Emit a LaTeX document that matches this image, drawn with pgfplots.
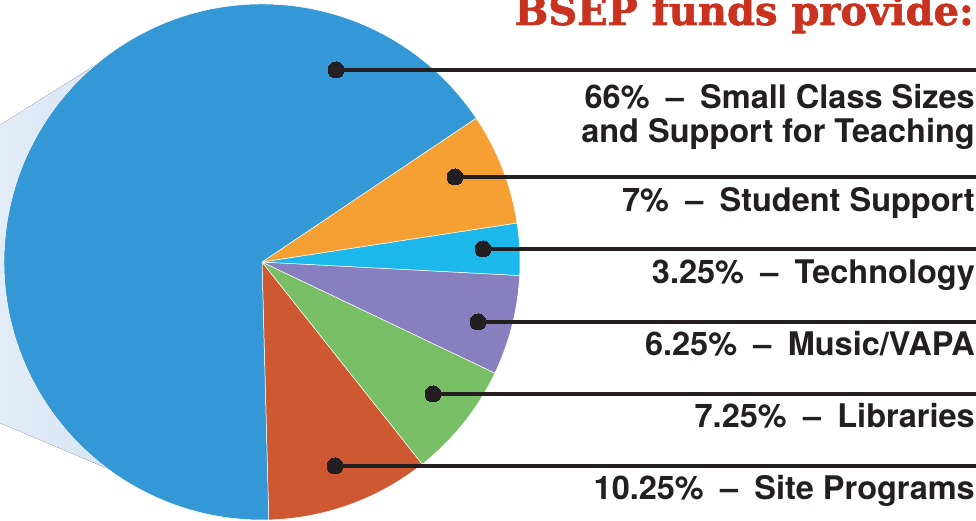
\documentclass[border=0pt]{standalone}
\usepackage{pgfplots}
\usepackage{pgfplotstable}
\pgfplotsset{compat=1.18}
\usepackage{fontspec}
\setmainfont{TeX Gyre Heros}
\newfontfamily\titlefont{DejaVu Serif}[BoldFeatures={FakeBold=1.6}]
\definecolor{cBlue}{HTML}{3398D5}
\definecolor{cOrange}{HTML}{F6A034}
\definecolor{cCyan}{HTML}{1CB7EB}
\definecolor{cPurple}{HTML}{887FBE}
\definecolor{cGreen}{HTML}{78BE64}
\definecolor{cRed}{HTML}{CE5832}
\definecolor{cTitle}{HTML}{C8321E}
\definecolor{ink}{HTML}{231F20}
\definecolor{shadeL}{HTML}{E2ECF7}
\definecolor{shadeR}{HTML}{C4D9EF}
\newcommand{\sep}{\hspace{0.5em}\textendash\hspace{0.5em}}
\pgfplotstableread{
pct col
10.25 cRed
7.25 cGreen
6.25 cPurple
3.25 cCyan
7 cOrange
66 cBlue
}\slices
\begin{document}
\begin{tikzpicture}
\begin{axis}[name=ax, x=1pt, y=1pt, xmin=0, xmax=976, ymin=0, ymax=521,
  hide axis, clip=true, anchor=south west, at={(0,0)}]
% shadow
\fill[left color=shadeL, right color=shadeR] (axis cs:0,396) -- (axis cs:110,465) -- (axis cs:262,259) -- (axis cs:130,43) -- (axis cs:0,98) -- cycle;
% pie slices
\xdef\cum{271.5}
\pgfplotsinvokeforeach{0,...,5}{
  \pgfplotstablegetelem{#1}{pct}\of\slices
  \pgfmathsetmacro\sweep{3.6*\pgfplotsretval}
  \pgfplotstablegetelem{#1}{col}\of\slices
  \let\cc\pgfplotsretval
  \pgfmathsetmacro\ee{\cum+\sweep}
  \edef\temp{\noexpand\fill[fill=\cc, draw=white, line width=0.5pt] (axis cs:262,259) -- ++(\cum:258pt) arc[start angle=\cum, end angle=\ee, radius=258pt] -- cycle;}
  \temp
  \xdef\cum{\ee}
}
% leader lines with dots
\pgfplotsset{leader/.style={line width=4pt, color=ink, mark=*, mark size=8pt, mark indices={1}, mark options={fill=ink, draw=ink, line width=0pt}}}
\addplot[leader] coordinates {(336,451) (980,451)};
\addplot[leader] coordinates {(455,344) (980,344)};
\addplot[leader] coordinates {(483,272) (980,272)};
\addplot[leader] coordinates {(478,199) (980,199)};
\addplot[leader] coordinates {(433,127) (980,127)};
\addplot[leader] coordinates {(335,55) (980,55)};
% texts
\node[anchor=base east, inner sep=0pt, text=cTitle, font=\titlefont\bfseries\fontsize{40}{42}\selectfont] at (axis cs:974,496) {BSEP funds provide:};
\tikzset{lab/.style={anchor=base east, inner sep=0pt, text=ink, font=\bfseries\fontsize{32.5}{34}\selectfont}}
\node[lab] at (axis cs:975,412) {66\%\sep Small Class Sizes};
\node[lab] at (axis cs:975,378) {and Support for Teaching};
\node[lab] at (axis cs:975,309) {7\%\sep Student Support};
\node[lab] at (axis cs:975,237) {3.25\%\sep Technology};
\node[lab] at (axis cs:975,165) {6.25\%\sep Music/VAPA};
\node[lab] at (axis cs:975,93) {7.25\%\sep Libraries};
\node[lab] at (axis cs:975,21) {10.25\%\sep Site Programs};
\end{axis}
\pgfresetboundingbox
\useasboundingbox (ax.south west) rectangle (ax.north east);
\end{tikzpicture}
\end{document}
